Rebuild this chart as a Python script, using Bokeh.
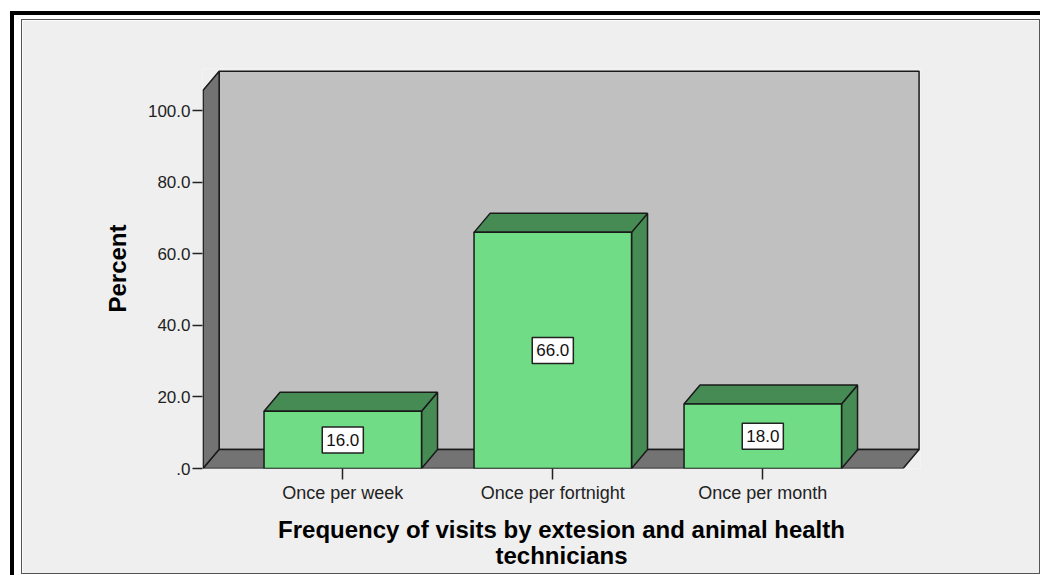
import numpy as np
from bokeh.plotting import figure
from bokeh.models import Range1d, FixedTicker
from bokeh.core.properties import value
from bokeh.embed import file_html
from bokeh.resources import INLINE

# ---- data ----
categories = ["Once per week", "Once per fortnight", "Once per month"]
percents = [16.0, 66.0, 18.0]
value_labels = ["16.0", "66.0", "18.0"]
y_ticks = [0, 20, 40, 60, 80, 100]
y_tick_labels = [".0", "20.0", "40.0", "60.0", "80.0", "100.0"]
x_title = "Frequency of visits by extesion and animal health\ntechnicians"
y_title = "Percent"

# ---- style ----
W, H = 1017, 553
FRONT = "#70DC85"
SHADE = "#468A54"
WALL = "#C0C0C0"
DARK = "#737373"
EDGE = "#1a1a1a"
PANEL = "#EFEFEF"
FONT = "Liberation Sans"
bar_w = 0.75
dx, dy = 0.0762, 5.31            # 3-D depth offset (data units)
wall_left, wall_right, wall_top = 0.335, 3.668, 105.7

p = figure(width=W, height=H,
           x_range=Range1d(0.332, 3.751), y_range=Range1d(0, 111.8),
           output_backend="svg", toolbar_location=None,
           min_border_left=180, min_border_right=119,
           min_border_top=48, min_border_bottom=105,
           background_fill_color=PANEL, border_fill_color=PANEL,
           outline_line_color=None)
p.margin = (20, 0, 0, 22)
p.styles = {
    "box-shadow": "0 0 0 1px #555555, -1px 2px 0 7px #ffffff, -2px 1px 0 10px #000000",
}
p.grid.visible = False

# walls and floor
p.quad(left=[wall_left + dx], right=[wall_right + dx], bottom=[dy], top=[wall_top + dy],
       fill_color=WALL, line_color=EDGE, line_width=1.5)
p.patch([wall_left, wall_left, wall_left + dx, wall_left + dx],
        [0, wall_top, wall_top + dy, dy],
        fill_color=DARK, line_color=EDGE, line_width=1.5)
p.patch([wall_left, wall_right, wall_right + dx, wall_left + dx],
        [0, 0, dy, dy],
        fill_color=DARK, line_color=EDGE, line_width=1.5)

# bars
xs = np.arange(1, len(categories) + 1, dtype=float)
vals = np.array(percents)
L = xs - bar_w / 2
R = xs + bar_w / 2
side_xs = [[r, r, r + dx, r + dx] for r in R]
side_ys = [[0, v, v + dy, dy] for v in vals]
top_xs = [[l, r, r + dx, l + dx] for l, r in zip(L, R)]
top_ys = [[v, v, v + dy, v + dy] for v in vals]
p.patches(side_xs, side_ys, fill_color=SHADE, line_color=EDGE, line_width=1.5)
p.patches(top_xs, top_ys, fill_color=SHADE, line_color=EDGE, line_width=1.5)
p.quad(left=L, right=R, bottom=0, top=vals, fill_color=FRONT, line_color=EDGE, line_width=1.5)

p.text(x=xs, y=vals / 2, text=value_labels, text_align="center", text_baseline="middle",
       text_font=value(FONT), text_font_size=value("17px"), text_color="#111111",
       background_fill_color="white", border_line_color="#222222", border_line_width=1.5,
       padding=dict(left=4, right=4, top=7, bottom=7))

# axes
xa = p.xaxis[0]
xa.ticker = FixedTicker(ticks=list(xs))
xa.major_label_overrides = {float(x): c for x, c in zip(xs, categories)}
xa.axis_line_color = None
xa.major_tick_in = 0
xa.major_tick_out = 11
xa.major_tick_line_color = "#222222"
xa.major_tick_line_width = 1.5
xa.minor_tick_line_color = None
xa.major_label_standoff = 3
xa.major_label_text_font = FONT
xa.major_label_text_font_size = "18px"
xa.major_label_text_color = "#222222"
xa.axis_label = x_title
xa.axis_label_standoff = 10
xa.axis_label_text_font = FONT
xa.axis_label_text_font_size = "24px"
xa.axis_label_text_font_style = "bold"
xa.axis_label_text_color = "#000000"
xa.axis_label_text_line_height = 0.97

ya = p.yaxis[0]
ya.ticker = FixedTicker(ticks=y_ticks)
ya.major_label_overrides = {float(t): s for t, s in zip(y_ticks, y_tick_labels)}
ya.axis_line_color = None
ya.major_tick_in = 0
ya.major_tick_out = 10
ya.major_tick_line_color = "#222222"
ya.major_tick_line_width = 1.5
ya.minor_tick_line_color = None
ya.major_label_standoff = 2
ya.major_label_text_font = FONT
ya.major_label_text_font_size = "17px"
ya.major_label_text_color = "#222222"
ya.axis_label = y_title
ya.axis_label_standoff = 14
ya.axis_label_text_font = FONT
ya.axis_label_text_font_size = "24px"
ya.axis_label_text_font_style = "bold"
ya.axis_label_text_color = "#000000"

open("out.html", "w").write(file_html(p, INLINE))
